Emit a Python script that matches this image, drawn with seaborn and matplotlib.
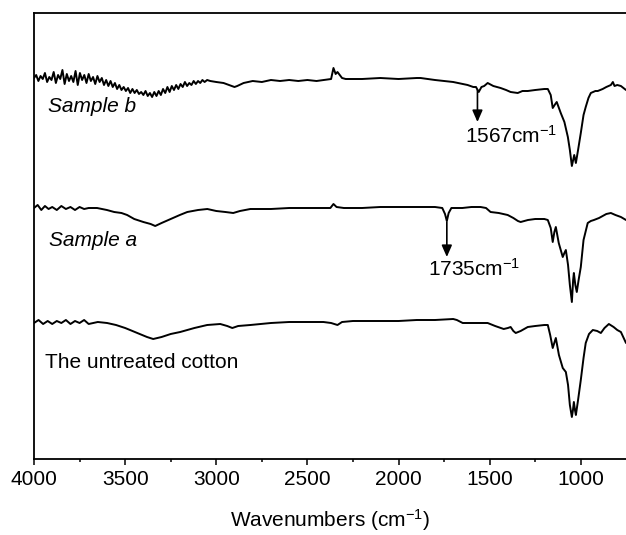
import numpy as np
import pandas as pd
import matplotlib
matplotlib.use("Agg")
import matplotlib.pyplot as plt
from matplotlib.ticker import MultipleLocator
import seaborn as sns

# spectra (transmittance, arbitrary units, offset per trace)
wn_b = [4000, 3988, 3976, 3964, 3952, 3940, 3928, 3916, 3904, 3892, 3880, 3868, 3856, 3844,
        3832, 3820, 3808, 3796, 3784, 3772, 3760, 3748, 3736, 3724, 3712, 3700, 3688, 3676,
        3664, 3652, 3640, 3628, 3616, 3604, 3592, 3580, 3568, 3556, 3544, 3532, 3520, 3508,
        3496, 3484, 3472, 3460, 3448, 3436, 3424, 3412, 3400, 3388, 3376, 3364, 3352, 3340,
        3328, 3316, 3304, 3292, 3280, 3268, 3256, 3244, 3232, 3220, 3208, 3196, 3184, 3172,
        3160, 3148, 3136, 3124, 3112, 3100, 3088, 3076, 3064, 3050, 3033, 3000, 2960, 2930,
        2900, 2885, 2850, 2800, 2750, 2700, 2650, 2600, 2550, 2500, 2450, 2412, 2370, 2357,
        2345, 2335, 2310, 2290, 2200, 2100, 2000, 1900, 1879, 1800, 1700, 1621, 1590, 1575,
        1560, 1545, 1530, 1511, 1480, 1440, 1410, 1385, 1346, 1320, 1291, 1250, 1200, 1181,
        1165, 1154, 1140, 1132, 1110, 1090, 1071, 1060, 1049, 1042, 1036, 1027, 1015, 1000,
        985, 973, 958, 945, 920, 907, 880, 860, 835, 824, 815, 800, 780, 752]
t_b = [381, 384, 378, 383, 380, 386, 377, 382, 379, 387, 376, 384, 380, 389,
       375, 385, 378, 383, 377, 388, 374, 386, 379, 384, 376, 385, 378, 382,
       375, 383, 377, 381, 374, 379, 373, 378, 372, 376, 370, 374, 369, 372,
       368, 371, 366, 370, 366, 369, 365, 367, 364, 368, 363, 366, 362, 367,
       363, 368, 364, 370, 366, 372, 367, 373, 369, 374, 370, 375, 372, 377,
       373, 376, 374, 378, 375, 378, 376, 379, 377, 379, 378, 377, 376, 374,
       372, 373, 376, 378, 377, 379, 378, 379, 378, 379, 378, 379, 380, 391,
       385, 387, 381, 380, 380, 381, 380, 381, 381, 379, 377, 374, 372, 372,
       367, 372, 373, 376, 373, 371, 369, 367, 366, 368, 368, 369, 370, 370,
       364, 351, 355, 357, 346, 337, 322, 309, 293, 299, 304, 296, 309, 326,
       344, 352, 361, 366, 368, 368, 370, 372, 374, 377, 373, 374, 373, 369]

wn_a = [4000, 3980, 3960, 3940, 3920, 3900, 3875, 3850, 3825, 3800, 3775, 3750, 3725, 3700,
        3654, 3600, 3560, 3520, 3489, 3450, 3400, 3360, 3335, 3300, 3250, 3200, 3159, 3100,
        3049, 3000, 2950, 2907, 2870, 2813, 2700, 2600, 2500, 2400, 2374, 2357, 2340, 2300,
        2200, 2100, 2000, 1900, 1800, 1760, 1745, 1735, 1725, 1710, 1650, 1600, 1550, 1520,
        1495, 1450, 1401, 1370, 1345, 1330, 1290, 1250, 1200, 1181, 1165, 1154, 1145, 1137,
        1128, 1121, 1110, 1099, 1090, 1082, 1070, 1060, 1049, 1042, 1038, 1030, 1022, 1012,
        1000, 985, 962, 945, 928, 900, 860, 835, 810, 780, 752]
t_a = [251, 254, 249, 253, 250, 252, 249, 253, 250, 252, 249, 252, 250, 251,
       251, 249, 247, 246, 244, 240, 237, 235, 233, 236, 240, 244, 247, 249,
       250, 248, 247, 246, 248, 250, 250, 251, 251, 251, 251, 255, 252, 251,
       251, 252, 252, 252, 252, 251, 245, 238, 246, 251, 251, 252, 252, 251,
       247, 246, 244, 241, 238, 237, 239, 240, 240, 239, 231, 217, 227, 232,
       223, 216, 209, 202, 206, 209, 194, 174, 157, 179, 186, 174, 167, 179,
       192, 219, 236, 238, 239, 241, 245, 246, 244, 242, 239]

wn_c = [4000, 3975, 3950, 3925, 3900, 3875, 3850, 3825, 3800, 3775, 3750, 3725, 3700, 3650,
        3599, 3550, 3500, 3473, 3420, 3380, 3346, 3300, 3250, 3198, 3120, 3050, 2978, 2940,
        2912, 2880, 2813, 2700, 2600, 2500, 2412, 2370, 2335, 2310, 2250, 2100, 2000, 1900,
        1800, 1700, 1680, 1648, 1600, 1550, 1511, 1470, 1423, 1400, 1385, 1370, 1357, 1330,
        1291, 1250, 1200, 1181, 1168, 1154, 1137, 1120, 1099, 1082, 1070, 1060, 1049, 1043,
        1038, 1032, 1027, 1015, 1000, 985, 973, 955, 934, 910, 890, 870, 846, 820, 800, 780, 752]
t_c = [136, 139, 135, 138, 135, 138, 136, 139, 135, 138, 136, 139, 135, 137,
       136, 134, 131, 129, 125, 122, 120, 122, 125, 127, 131, 134, 135, 133,
       131, 133, 134, 136, 137, 137, 137, 136, 134, 137, 138, 138, 138, 139,
       139, 140, 139, 136, 136, 136, 136, 133, 130, 131, 132, 128, 126, 128,
       132, 133, 134, 134, 124, 111, 121, 104, 91, 87, 74, 54, 42, 49,
       57, 49, 44, 59, 79, 101, 116, 125, 129, 128, 126, 131, 135, 132, 129, 127, 116]

labels = ["Sample b", "Sample a", "The untreated cotton"]
label_pos = [(3923, 352), (3918, 218), (3940, 96)]
label_style = ["italic", "italic", "normal"]

peaks = [1567, 1735]
peak_text = ["1567cm$^{\\mathregular{-1}}$", "1735cm$^{\\mathregular{-1}}$"]
arrow_from = [369, 237]
arrow_to = [337, 202]
text_pos = [(1637, 316), (1841, 183)]

sns.set_style("ticks")
plt.rcParams["font.family"] = ["Liberation Sans", "DejaVu Sans"]
plt.rcParams["mathtext.fontset"] = "custom"
plt.rcParams["mathtext.rm"] = "Liberation Sans"
plt.rcParams["mathtext.it"] = "Liberation Sans:italic"
plt.rcParams["text.color"] = "black"
plt.rcParams["axes.labelcolor"] = "black"
plt.rcParams["xtick.color"] = "black"

df = pd.concat([
    pd.DataFrame({"wn": wn_b, "t": t_b, "trace": labels[0]}),
    pd.DataFrame({"wn": wn_a, "t": t_a, "trace": labels[1]}),
    pd.DataFrame({"wn": wn_c, "t": t_c, "trace": labels[2]}),
])

fig = plt.figure(figsize=(6.26, 5.35), dpi=100)
ax = fig.add_axes([34 / 626, 1 - 459 / 535, 1 - 34 / 626, (459 - 13) / 535])

for name in labels:
    sub = df[df["trace"] == name]
    sns.lineplot(data=sub, x="wn", y="t", ax=ax, color="black", lw=1.4,
                 sort=False, estimator=None, legend=False)

for name, (x, y), st in zip(labels, label_pos, label_style):
    ax.text(x, y, name, fontsize=15, style=st, ha="left", va="center", color="black")

for p, txt, y0, y1, (tx, ty) in zip(peaks, peak_text, arrow_from, arrow_to, text_pos):
    ax.annotate("", xy=(p, y1), xytext=(p, y0),
                arrowprops=dict(arrowstyle="-|>,head_length=0.5,head_width=0.22",
                                color="black", lw=1.2, mutation_scale=14,
                                shrinkA=0, shrinkB=0))
    ax.text(tx, ty, txt, fontsize=15, ha="left", va="baseline", color="black")

ax.set_xlim(4000, 752)
ax.set_ylim(0, 446)
ax.xaxis.set_major_locator(MultipleLocator(500))
ax.xaxis.set_minor_locator(MultipleLocator(250))
ax.set_yticks([])
ax.set_ylabel("")
ax.set_xlabel("Wavenumbers (cm$^{\\mathregular{-1}}$)", fontsize=15, labelpad=13, color="black")
ax.tick_params(axis="x", which="major", direction="out", length=4, width=1.1,
               labelsize=15, pad=4, color="black", labelcolor="black")
ax.tick_params(axis="x", which="minor", direction="out", length=2.5, width=1.1, color="black")
ax.spines["right"].set_visible(False)
for s in ["left", "top", "bottom"]:
    ax.spines[s].set_linewidth(1.3)
    ax.spines[s].set_color("black")

fig.savefig("out.png", dpi=100)
